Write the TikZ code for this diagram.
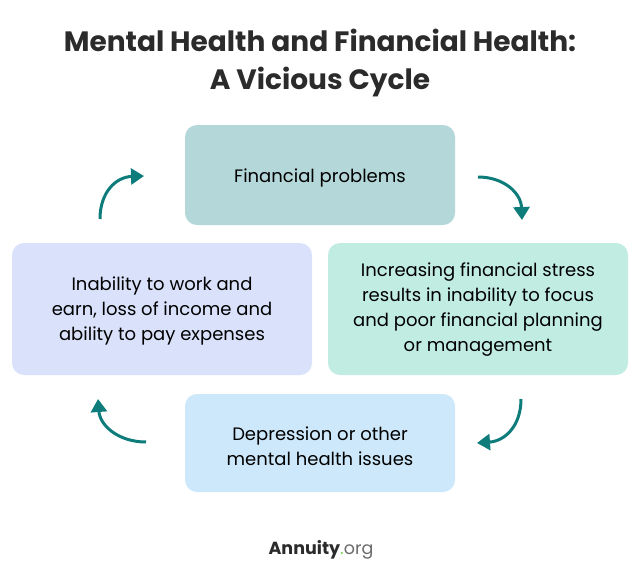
\documentclass[tikz,border=0pt]{standalone}
\usepackage{fontspec}
\setmainfont{Poppins}
\usetikzlibrary{arrows.meta}
\definecolor{topc}{HTML}{B4D7D9}
\definecolor{leftc}{HTML}{D9E2FA}
\definecolor{rightc}{HTML}{C1ECE2}
\definecolor{botc}{HTML}{CCE8FA}
\definecolor{teal}{HTML}{0E7C7B}
\definecolor{titlec}{HTML}{2B2B2B}
\definecolor{greenc}{HTML}{7ED957}
\definecolor{grayc}{HTML}{6B6B6B}
\tikzset{
  box/.style={rounded corners=12pt, inner sep=0pt, text=black, font=\fontsize{18}{25}\selectfont, align=center},
  cyc/.style={draw=teal, line width=3pt, -{Triangle[length=13pt,width=16pt]}}
}
\begin{document}
\begin{tikzpicture}[x=1pt,y=-1pt]
\useasboundingbox[fill=white] (0,0) rectangle (640,579);
\node[font=\bfseries\fontsize{28}{38}\selectfont, text=titlec, align=center] (title) at (320,63) {Mental Health and Financial Health:\\A Vicious Cycle};
\fill[topc, rounded corners=12pt] (185,125) rectangle (455,225);
\fill[leftc, rounded corners=12pt] (12,243) rectangle (312,375);
\fill[rightc, rounded corners=12pt] (328,243) rectangle (628,375);
\fill[botc, rounded corners=12pt] (185,394) rectangle (455,492);
\node[box] (top) at (320,178) {Financial problems};
\node[box] (left) at (162,311) {Inability to work and\\earn, loss of income and\\ability to pay expenses};
\node[box] (right) at (478,309.5) {Increasing financial stress\\results in inability to focus\\and poor financial planning\\or management};
\node[box] (bot) at (320,446) {Depression or other\\mental health issues};
\coordinate (a1s) at (100,219); \coordinate (a1e) at (144,176);
\coordinate (a2s) at (478,177); \coordinate (a2e) at (522,220);
\coordinate (a3s) at (521,399); \coordinate (a3e) at (477,443);
\coordinate (a4s) at (146,442); \coordinate (a4e) at (98,399);
\draw[cyc] (a1s) .. controls (100,192) and (116,177) .. (a1e);
\draw[cyc] (a2s) .. controls (504,177) and (521,193) .. (a2e);
\draw[cyc] (a3s) .. controls (521,426) and (505,441) .. (a3e);
\draw[cyc] (a4s) .. controls (119,442) and (100,426) .. (a4e);
\node[font=\fontsize{17.5}{22}\selectfont, anchor=base] (logo) at (321,554) {\textcolor{titlec}{\bfseries Annuity}\textcolor{greenc}{.}\textcolor{grayc}{org}};
\end{tikzpicture}
\end{document}
